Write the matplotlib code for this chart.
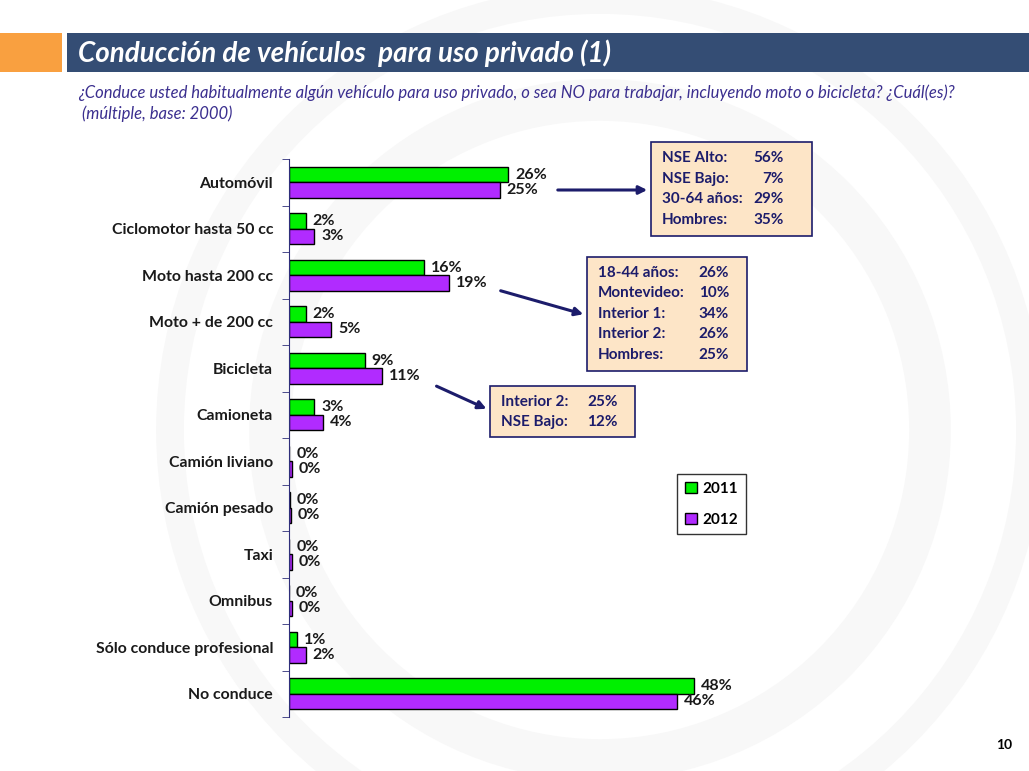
import numpy as np
import matplotlib as mpl
import matplotlib.pyplot as plt
from matplotlib.patches import Rectangle, Ellipse

mpl.rcParams['font.family'] = ['Lato', 'DejaVu Sans']

categories = ['Automóvil', 'Ciclomotor hasta 50 cc', 'Moto hasta 200 cc', 'Moto + de 200 cc',
              'Bicicleta', 'Camioneta', 'Camión liviano', 'Camión pesado', 'Taxi', 'Omnibus',
              'Sólo conduce profesional', 'No conduce']
v2011 = [26, 2, 16, 2, 9, 3, 0.05, 0.1, 0.05, 0.0, 1, 48]
v2012 = [25, 3, 19, 5, 11, 4, 0.3, 0.25, 0.3, 0.3, 2, 46]

box1 = [('NSE Alto:', '56%'), ('NSE Bajo:', '7%'), ('30-64 años:', '29%'), ('Hombres:', '35%')]
box2 = [('18-44 años:', '26%'), ('Montevideo:', '10%'), ('Interior 1:', '34%'),
        ('Interior 2:', '26%'), ('Hombres:', '25%')]
box3 = [('Interior 2:', '25%'), ('NSE Bajo:', '12%')]

W, H = 1029, 771
green = '#00F000'
purple = '#B12BFF'
navy = '#1C1C6B'

fig = plt.figure(figsize=(W / 100, H / 100), dpi=100)

def P(x, y):
    return (x / W, 1 - y / H)

# faint watermark rings, behind everything
for cx, cy, r, lw in [(600, 430, 330, 30), (600, 430, 430, 20)]:
    fig.patches.append(Ellipse(P(cx, cy), 2 * r / W, 2 * r / H, transform=fig.transFigure,
                               fill=False, ec='#F8F8F8', lw=lw, zorder=-10))

# header
fig.patches.append(Rectangle(P(0, 72), 62 / W, 39 / H, transform=fig.transFigure,
                             fc='#F9A040', ec='none'))
fig.patches.append(Rectangle(P(67, 72), (W - 67) / W, 39 / H, transform=fig.transFigure,
                             fc='#344D74', ec='none'))
fig.text(*P(78, 53), 'Conducción de vehículos  para uso privado (1)', color='white',
         fontsize=20, fontweight='bold', fontstyle='italic', va='center', ha='left')
fig.text(*P(78, 93), '¿Conduce usted habitualmente algún vehículo para uso privado, o sea NO para '
         'trabajar, incluyendo moto o bicicleta? ¿Cuál(es)?', color='#3B2F8F', fontsize=12,
         fontstyle='italic', va='center', ha='left')
fig.text(*P(82, 114), '(múltiple, base: 2000)', color='#3B2F8F', fontsize=12,
         fontstyle='italic', va='center', ha='left')
fig.text(*P(1012, 745), '10', fontsize=10, fontweight='bold', ha='right', va='center')

# chart
ax = fig.add_axes([289 / W, 1 - 717 / H, 510 / W, 558 / H])
ax.patch.set_alpha(0)
y = np.arange(len(categories))
h = 0.33
b1 = ax.barh(y - h / 2, v2011, height=h, color=green, edgecolor='black', lw=1, label='2011')
b2 = ax.barh(y + h / 2, v2012, height=h, color=purple, edgecolor='black', lw=1, label='2012')
for bars, vals in [(b1, v2011), (b2, v2012)]:
    for bar, v in zip(bars, vals):
        ax.annotate(f'{v:.0f}%', (bar.get_width(), bar.get_y() + bar.get_height() / 2),
                    xytext=(5, 0), textcoords='offset points', va='center', ha='left',
                    fontsize=11.5, fontweight='bold', color='#1a1a1a')
ax.set_xlim(0, 60.5)
ax.set_ylim(len(categories) - 0.5, -0.5)
for s in ['top', 'right', 'bottom']:
    ax.spines[s].set_visible(False)
ax.spines['left'].set_color('#2E2E7A')
ax.set_xticks([])
ax.set_yticks(y)
ax.set_yticklabels(categories, fontsize=11.4, fontweight='bold', color='#1a1a1a')
ax.tick_params(axis='y', which='major', length=0, pad=11.5)
ax.set_yticks(np.arange(-0.5, len(categories) + 0.5, 1), minor=True)
ax.tick_params(axis='y', which='minor', length=5, color='#2E2E7A', direction='out')

leg = fig.legend(handles=[b1, b2], loc='upper left', bbox_to_anchor=P(677, 474),
                 borderaxespad=0, frameon=True, fancybox=False, edgecolor='black',
                 handlelength=0.8, handleheight=0.8, handletextpad=0.35, labelspacing=1.1,
                 borderpad=0.5, prop={'weight': 'bold', 'size': 11})
leg.get_frame().set_linewidth(1)

# annotation boxes
def info_box(x0, y0, x1, y1, rows, lx, rx, ys):
    fig.patches.append(Rectangle(P(x0, y1), (x1 - x0) / W, (y1 - y0) / H,
                                 transform=fig.transFigure, fc='#FDE5C7', ec=navy, lw=1.2))
    for (lab, val), yy in zip(rows, ys):
        fig.text(*P(lx, yy), lab, color=navy, fontsize=11, fontweight='bold', va='center')
        fig.text(*P(rx, yy), val, color=navy, fontsize=11, fontweight='bold', va='center',
                 ha='right')

info_box(651, 142, 812, 236, box1, 662, 784, [158, 179, 199, 220])
info_box(587, 257, 747, 371, box2, 598, 729, [273, 293, 314, 334, 355])
info_box(490, 386, 635, 437, box3, 501, 618, [402, 422])

for (xa, ya), (xb, yb) in [((555, 190), (650, 190)), ((498, 290), (586, 315)),
                           ((434, 385), (489, 410))]:
    fig.add_artist(mpl.patches.FancyArrowPatch(P(xa, ya), P(xb, yb), transform=fig.transFigure,
                                               arrowstyle='-|>', mutation_scale=12,
                                               color=navy, lw=2.2))

fig.savefig('out.png', dpi=100)
